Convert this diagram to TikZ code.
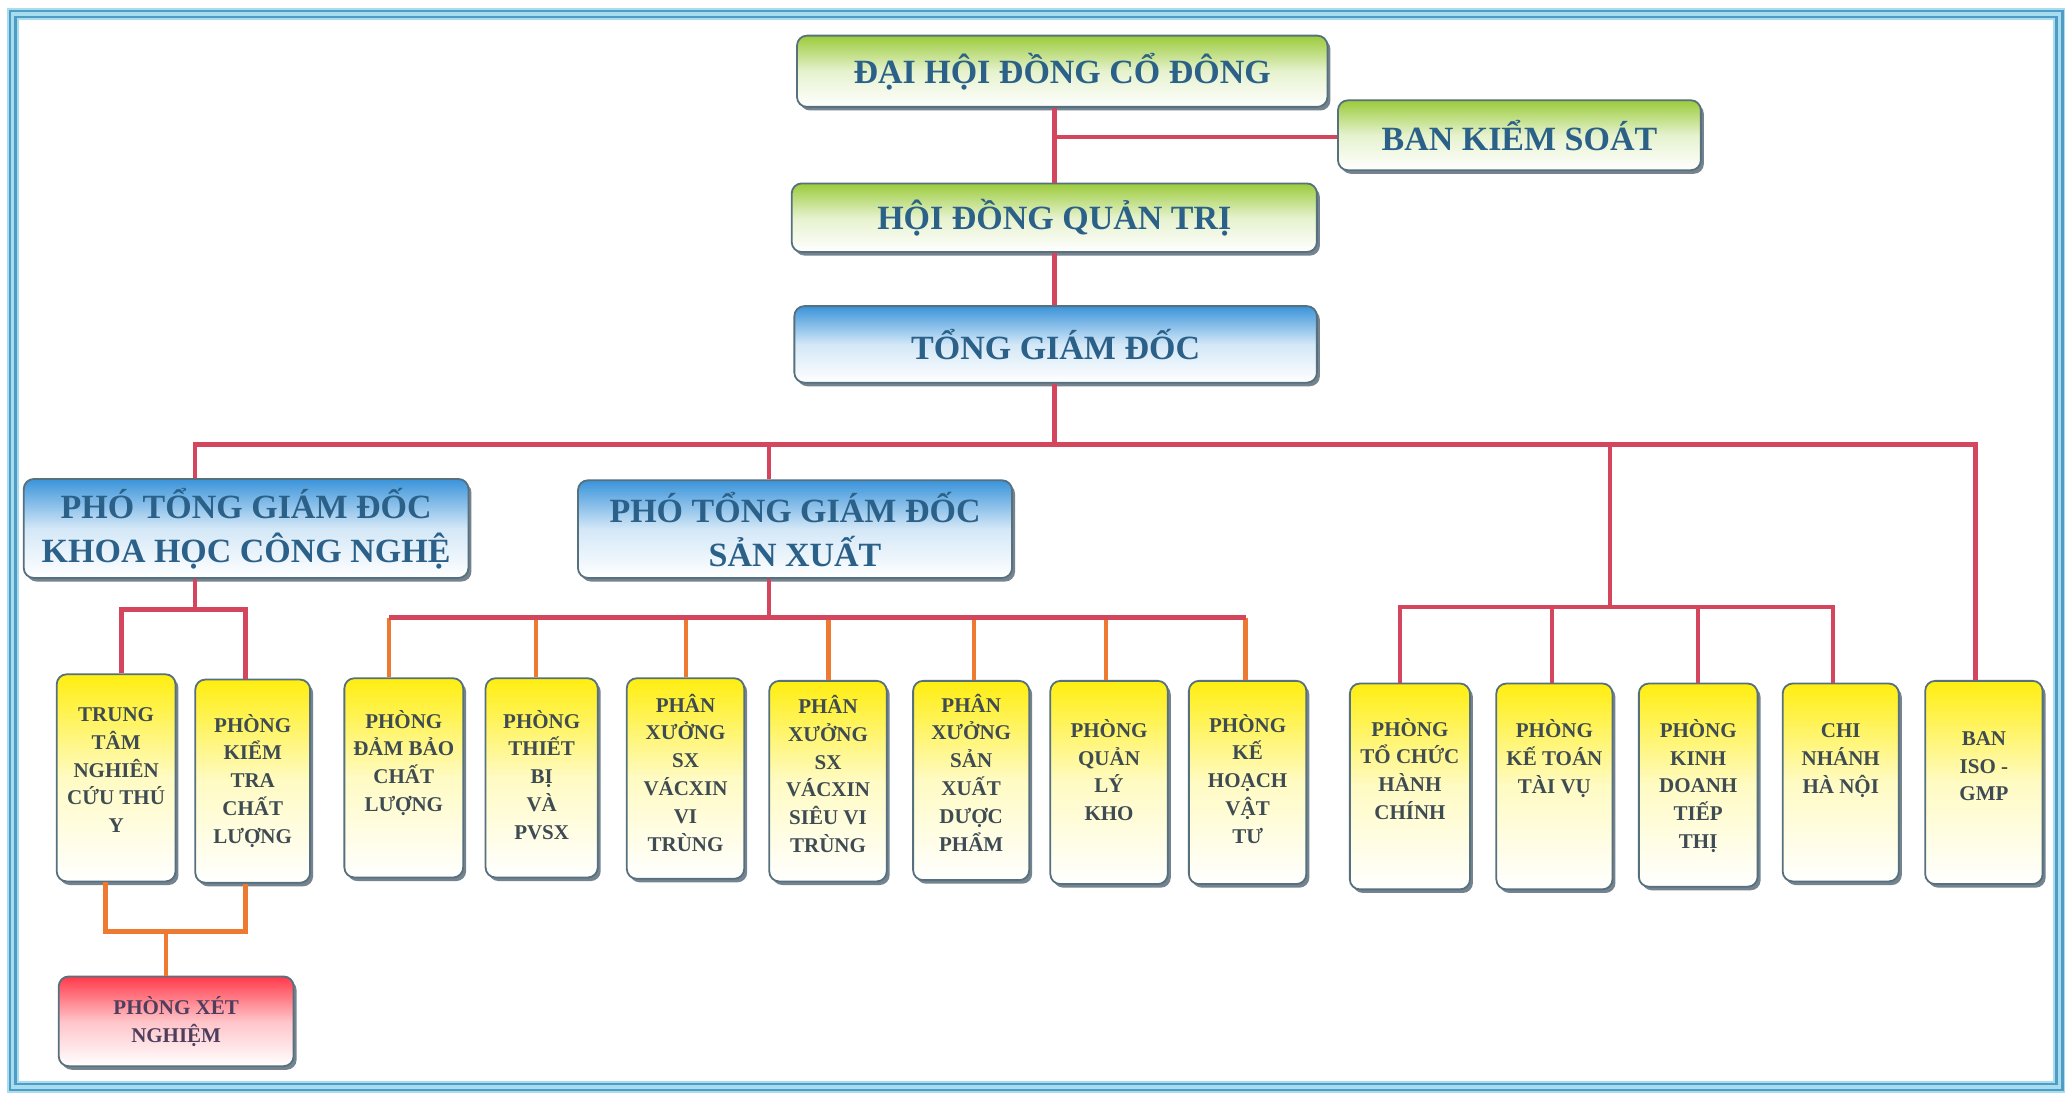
\documentclass[tikz,border=0pt]{standalone}
\usepackage{fontspec}
\setmainfont{Liberation Serif}
\usetikzlibrary{shadows}
\definecolor{framec}{HTML}{4F9CC4}
\definecolor{framelt}{HTML}{A8DCEF}
\definecolor{redc}{HTML}{D4455E}
\definecolor{orc}{HTML}{EE7A32}
\definecolor{bord}{HTML}{56707E}
\definecolor{shad}{HTML}{5E6E7C}
\definecolor{gtop}{HTML}{9BCB3B}
\definecolor{btop}{HTML}{3A94DA}
\definecolor{ytop}{HTML}{FFEE10}
\definecolor{rtop}{HTML}{FF3A4A}
\definecolor{ttitle}{HTML}{2B6189}
\definecolor{tsmall}{HTML}{3E4B52}
\definecolor{txn}{HTML}{4E3E5E}
\tikzset{
  wh/.style 2 args={minimum width=#1*0.66pt, minimum height=#2*0.66pt},
  orgbox/.style={rounded corners=5pt, draw=bord, line width=0.9pt, inner sep=0pt,
    drop shadow={shadow xshift=1.5pt, shadow yshift=-1.8pt, fill=shad, opacity=0.85}},
  bigtext/.style={text=ttitle, font=\bfseries\fontsize{17}{22}\selectfont, align=center},
  greenbox/.style={orgbox, bigtext, top color=gtop, bottom color=white, middle color=gtop!25!white},
  bluebox/.style={orgbox, bigtext, top color=btop, bottom color=white, middle color=btop!22!white},
  yelbox/.style={orgbox, top color=ytop, bottom color=white, middle color=ytop!25!white},
  redbox/.style={orgbox, top color=rtop, bottom color=white, middle color=rtop!30!white,
    text=txn, font=\bfseries\fontsize{10.5}{13.9}\selectfont, align=center},
  stxt/.style={font=\bfseries\fontsize{10.5}{13.9}\selectfont, text=tsmall, align=center,
    inner sep=0pt, anchor=base},
  redcon/.style={draw=redc, line width=2.2pt},
  orcon/.style={draw=orc, line width=2.2pt},
}
\begin{document}
\begin{tikzpicture}[x=0.66pt,y=-0.66pt]
\useasboundingbox (0,0) rectangle (1568,829);
\fill[white] (0,0) rectangle (1568,829);
% frame
\draw[framelt, line width=3pt] (7.5,8.3) rectangle (1563,826);
\draw[framelt, line width=3pt] (11.8,13) rectangle (1558.5,821.5);
\draw[framec, line width=1.1pt] (7.5,8.3) rectangle (1563,826);
\draw[framec, line width=1.1pt] (11.8,13) rectangle (1558.5,821.5);

% top boxes
\node[greenbox, wh={402}{54}] (dh) at (805,54) {ĐẠI HỘI ĐỒNG CỔ ĐÔNG};
\node[greenbox, wh={275}{53}] (bks) at (1151.5,102.5) {BAN KIỂM SOÁT};
\node[greenbox, wh={398}{52}] (hd) at (799,165) {HỘI ĐỒNG QUẢN TRỊ};
\node[bluebox, wh={396}{58}] (tgd) at (800,261) {TỔNG GIÁM ĐỐC};
\node[bluebox, wh={337}{75}] (kh) at (186.5,400.5) {PHÓ TỔNG GIÁM ĐỐC\\KHOA HỌC CÔNG NGHỆ};
\node[bluebox, wh={329}{74}] (sx) at (602.5,401) {PHÓ TỔNG GIÁM ĐỐC\\SẢN XUẤT};

% small boxes
\node[yelbox, wh={90}{157}] (b1) at (88,589.5) {};
\node[yelbox, wh={87}{154}] (b2) at (191.5,592) {};
\node[yelbox, wh={90}{151}] (b3) at (306,589.5) {};
\node[yelbox, wh={85}{151}] (b4) at (410.5,589.5) {};
\node[yelbox, wh={89}{152}] (b5) at (519.5,590) {};
\node[yelbox, wh={89}{152}] (b6) at (627.5,592) {};
\node[yelbox, wh={88}{151}] (b7) at (736,591.5) {};
\node[yelbox, wh={89}{154}] (b8) at (840.5,593) {};
\node[yelbox, wh={89}{154}] (b9) at (945.5,593) {};
\node[yelbox, wh={91}{156}] (b10) at (1068.5,596) {};
\node[yelbox, wh={88}{156}] (b11) at (1178,596) {};
\node[yelbox, wh={90}{154}] (b12) at (1287,595) {};
\node[yelbox, wh={88}{150}] (b13) at (1395,593) {};
\node[yelbox, wh={89}{154}] (b14) at (1503.5,593) {};
\node[redbox, wh={178}{68}] (xn) at (133.5,774) {PHÒNG XÉT\\NGHIỆM};

% texts of small boxes (anchor = baseline of last line)
\node[stxt] (t1) at (b1.center |- 0,631) {TRUNG\\TÂM\\NGHIÊN\\CỨU THÚ\\Y};
\node[stxt] (t2) at (b2.center |- 0,639) {PHÒNG\\KIỂM\\TRA\\CHẤT\\LƯỢNG};
\node[stxt] (t3) at (b3.center |- 0,615) {PHÒNG\\ĐẢM BẢO\\CHẤT\\LƯỢNG};
\node[stxt] (t4) at (b4.center |- 0,636) {PHÒNG\\THIẾT\\BỊ\\VÀ\\PVSX};
\node[stxt] (t5) at (b5.center |- 0,645) {PHÂN\\XƯỞNG\\SX\\VÁCXIN\\VI\\TRÙNG};
\node[stxt] (t6) at (b6.center |- 0,646) {PHÂN\\XƯỞNG\\SX\\VÁCXIN\\SIÊU VI\\TRÙNG};
\node[stxt] (t7) at (b7.center |- 0,645) {PHÂN\\XƯỞNG\\SẢN\\XUẤT\\DƯỢC\\PHẨM};
\node[stxt] (t8) at (b8.center |- 0,622) {PHÒNG\\QUẢN\\LÝ\\KHO};
\node[stxt] (t9) at (b9.center |- 0,639) {PHÒNG\\KẾ\\HOẠCH\\VẬT\\TƯ};
\node[stxt] (t10) at (b10.center |- 0,621) {PHÒNG\\TỔ CHỨC\\HÀNH\\CHÍNH};
\node[stxt] (t11) at (b11.center |- 0,601) {PHÒNG\\KẾ TOÁN\\TÀI VỤ};
\node[stxt] (t12) at (b12.center |- 0,643) {PHÒNG\\KINH\\DOANH\\TIẾP\\THỊ};
\node[stxt] (t13) at (b13.center |- 0,601) {CHI\\NHÁNH\\HÀ NỘI};
\node[stxt] (t14) at (b14.center |- 0,607) {BAN\\ISO -\\GMP};

% junction coordinates
\coordinate (j0) at (799,104);
\coordinate (m) at (799,337);
\coordinate (ml) at (148,337);
\coordinate (mr) at (1497,337);
\coordinate (ms) at (583,337);
\coordinate (mg) at (1220,337);
\coordinate (g0) at (1220,460);
\coordinate (g1) at (1061,460);
\coordinate (g2) at (1176,460);
\coordinate (g3) at (1287,460);
\coordinate (g4) at (1389,460);
\coordinate (k0) at (148,462);
\coordinate (k1) at (92,462);
\coordinate (k2) at (186,462);
\coordinate (s0) at (583,468);
\coordinate (s1) at (295,468);
\coordinate (s2) at (406,468);
\coordinate (s3) at (520,468);
\coordinate (s4) at (628,468);
\coordinate (s5) at (738,468);
\coordinate (s6) at (838,468);
\coordinate (s7) at (944,468);
\coordinate (x0) at (126,706);
\coordinate (x1) at (80,706);
\coordinate (x2) at (186,706);

% connectors
\draw[redcon] (dh.south -| j0) -- (hd.north -| j0);
\draw[redcon] (j0) -- (j0 -| bks.west);
\draw[redcon] (hd.south -| m) -- (tgd.north -| m);
\draw[redcon] (tgd.south -| m) -- (m);
\draw[redcon] (kh.north -| ml) -- (ml) -- (mr) -- (b14.north -| mr);
\draw[redcon] (ms) -- (sx.north -| ms);
\draw[redcon] (mg) -- (g0);
\draw[redcon] (b10.north -| g1) -- (g1) -- (g4) -- (b13.north -| g4);
\draw[redcon] (g2) -- (b11.north -| g2);
\draw[redcon] (g3) -- (b12.north -| g3);
\draw[redcon] (kh.south -| k0) -- (k0);
\draw[redcon] (b1.north -| k1) -- (k1) -- (k2) -- (b2.north -| k2);
\draw[redcon] (sx.south -| s0) -- (s0);
\draw[orcon] (s1) -- (b3.north -| s1);
\draw[orcon] (s2) -- (b4.north -| s2);
\draw[orcon] (s3) -- (b5.north -| s3);
\draw[orcon] (s4) -- (b6.north -| s4);
\draw[orcon] (s5) -- (b7.north -| s5);
\draw[orcon] (s6) -- (b8.north -| s6);
\draw[orcon] (s7) -- (b9.north -| s7);
\draw[redcon] (s1) -- (s7);
\draw[orcon] (b1.south -| x1) -- (x1) -- (x2) -- (b2.south -| x2);
\draw[orcon] (x0) -- (xn.north -| x0);
\end{tikzpicture}
\end{document}
